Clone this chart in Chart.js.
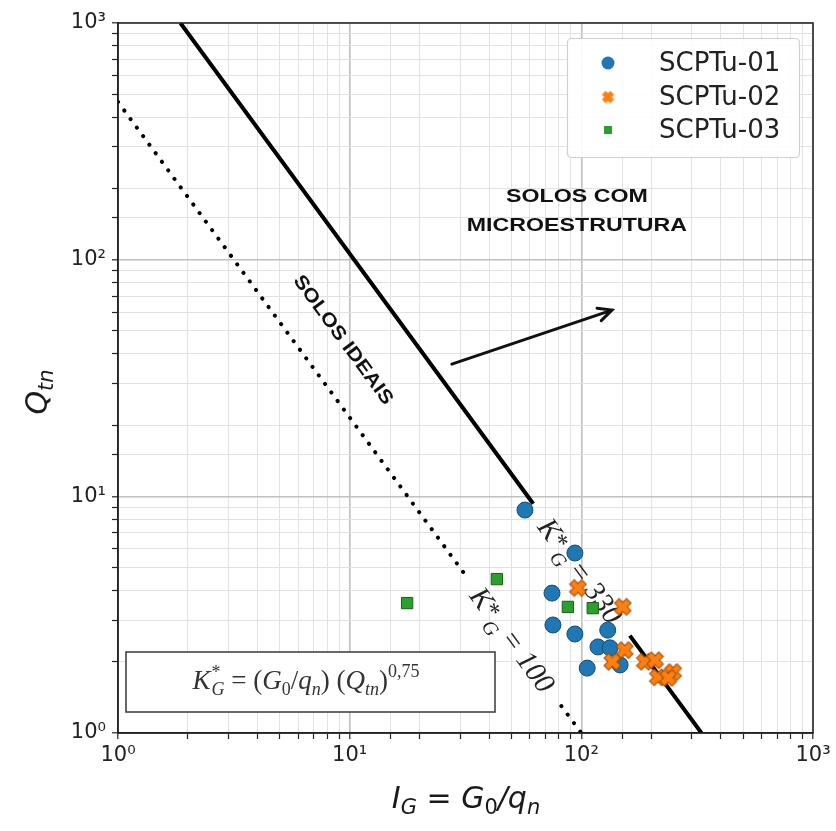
<!DOCTYPE html>
<html>
<head>
<meta charset="utf-8">
<script src="https://cdn.jsdelivr.net/npm/chart.js@4.4.0/dist/chart.umd.min.js"></script>
<style>
  html, body { margin: 0; background: #fff; }
  #chart { display: block; }
</style>
</head>
<body>
<canvas id="chart" width="836" height="831"></canvas>
<script>
// Data (I_G = G0/qn, Qtn)
const scpt01IG  = [57.1, 93.8, 74.7, 75.4, 93.8, 130, 118, 133, 106, 147];
const scpt01Qtn = [8.75, 5.76, 3.90, 2.86, 2.62, 2.72, 2.31, 2.29, 1.88, 1.94];
const scpt02IG  = [96.7, 151, 154, 136, 188, 208, 214, 249, 237];
const scpt02Qtn = [4.10, 3.41, 2.24, 2.00, 2.00, 2.03, 1.72, 1.81, 1.71];
const scpt03IG  = [17.7, 43.2, 87.5, 112];
const scpt03Qtn = [3.54, 4.47, 3.41, 3.37];

// K*G boundary lines, segment end points (null = gap for the label)
const k330IG  = [1.86, 62, 100, 162, 330];
const k330Qtn = [1000, 9.3, null, 2.58, 1];
const k100IG  = [1, 32, 50, 82, 100];
const k100Qtn = [464, 4.57, null, 1.30, 1];

const seriesNames = ['SCPTu-01', 'SCPTu-02', 'SCPTu-03'];
const seriesColors = ['#1f77b4', '#ff7f0e', '#2ca02c'];
const xTickLabels = {1: '10⁰', 10: '10¹', 100: '10²', 1000: '10³'};
const yTickLabels = {1: '10⁰', 10: '10¹', 100: '10²', 1000: '10³'};

const toPoints = (xs, ys) => xs.map((x, i) => ({x: x, y: ys[i]}));
const isDecade = v => Math.abs(Math.log10(v) - Math.round(Math.log10(v))) < 1e-6;

// filled "X" marker like matplotlib
function makeX(size, fill, edge) {
  const c = document.createElement('canvas');
  c.width = c.height = size;
  const g = c.getContext('2d');
  const h = size / 2 - 1, a = size * 0.17;
  const pts = [[-a,-h],[a,-h],[a,-a],[h,-a],[h,a],[a,a],[a,h],[-a,h],[-a,a],[-h,a],[-h,-a],[-a,-a]];
  g.translate(size / 2, size / 2);
  g.rotate(Math.PI / 4);
  g.beginPath();
  pts.forEach((p, i) => i ? g.lineTo(p[0], p[1]) : g.moveTo(p[0], p[1]));
  g.closePath();
  g.fillStyle = fill;
  g.fill();
  g.strokeStyle = edge;
  g.lineWidth = 1;
  g.stroke();
  return c;
}
const xMarker = makeX(19, '#ff7f0e', '#9a4a05');
const xMarkerSmall = makeX(13, '#ff7f0e', '#ff7f0e');

// draw text made of runs (for sub/superscripts)
function drawRuns(ctx, runs, x, y, align) {
  let total = 0;
  runs.forEach(r => { ctx.font = r.font; r.w = r.noAdvance ? 0 : ctx.measureText(r.text).width; total += r.w + (r.dx || 0); });
  let cx = align === 'center' ? x - total / 2 : x;
  ctx.textAlign = 'left';
  runs.forEach(r => {
    ctx.font = r.font;
    ctx.fillText(r.text, cx + (r.ox || 0), y + (r.dy || 0));
    cx += r.w + (r.dx || 0);
  });
}

const annotations = {
  id: 'annotations',
  beforeDatasetsDraw(chart) {
    const {ctx, scales: {x, y}} = chart;
    const ang = Math.atan2(y.getPixelForValue(9.3) - y.getPixelForValue(1000),
                           x.getPixelForValue(62) - x.getPixelForValue(1.86));
    ctx.save();
    ctx.fillStyle = '#111';
    ctx.textBaseline = 'middle';

    // SOLOS COM MICROESTRUTURA
    ctx.font = 'bold 19px "Liberation Sans", Arial, sans-serif';
    [['SOLOS COM', 184], ['MICROESTRUTURA', 139]].forEach(([t, q]) => {
      ctx.save();
      ctx.translate(x.getPixelForValue(95.7), y.getPixelForValue(q));
      ctx.scale(1.22, 1);
      ctx.textAlign = 'center';
      ctx.fillText(t, 0, 0);
      ctx.restore();
    });

    // SOLOS IDEAIS (rotated)
    ctx.save();
    ctx.translate(x.getPixelForValue(9.35), y.getPixelForValue(45.7));
    ctx.rotate(ang);
    ctx.scale(1.15, 1);
    ctx.textAlign = 'center';
    ctx.fillText('SOLOS IDEAIS', 0, 0);
    ctx.restore();

    // arrow
    const ax0 = x.getPixelForValue(27.6), ay0 = y.getPixelForValue(36.2);
    const ax1 = x.getPixelForValue(135.6), ay1 = y.getPixelForValue(61.2);
    const aa = Math.atan2(ay1 - ay0, ax1 - ax0);
    ctx.strokeStyle = '#111';
    ctx.lineWidth = 3;
    ctx.lineCap = 'round';
    ctx.beginPath();
    ctx.moveTo(ax0, ay0);
    ctx.lineTo(ax1, ay1);
    ctx.moveTo(ax1 - 15 * Math.cos(aa - 0.45), ay1 - 15 * Math.sin(aa - 0.45));
    ctx.lineTo(ax1, ay1);
    ctx.lineTo(ax1 - 15 * Math.cos(aa + 0.45), ay1 - 15 * Math.sin(aa + 0.45));
    ctx.stroke();

    // K*G labels along the lines
    [[98.6, 4.83, '330'], [50.2, 2.47, '100']].forEach(([ig, q, k]) => {
      ctx.save();
      ctx.translate(x.getPixelForValue(ig), y.getPixelForValue(q));
      ctx.rotate(ang);
      ctx.textBaseline = 'alphabetic';
      ctx.fillStyle = '#222';
      const f = 'italic 29px "Liberation Serif", "Times New Roman", serif';
      drawRuns(ctx, [
        {text: 'K', font: f},
        {text: '*', font: '25px "Liberation Serif", serif', dy: -2},
        {text: 'G', font: 'italic 20px "Liberation Serif", serif', dy: 8, dx: 6},
        {text: '= ' + k, font: f}
      ], 0, 9, 'center');
      ctx.restore();
    });
    ctx.restore();
  },
  afterDatasetsDraw(chart) {
    const {ctx, chartArea: ca} = chart;
    ctx.save();
    // frame
    ctx.strokeStyle = '#222';
    ctx.lineWidth = 1.5;
    ctx.strokeRect(ca.left, ca.top, ca.right - ca.left, ca.bottom - ca.top);

    // formula box
    ctx.fillStyle = '#fff';
    ctx.fillRect(126, 652, 369, 60);
    ctx.strokeStyle = '#444';
    ctx.lineWidth = 1.6;
    ctx.strokeRect(126, 652, 369, 60);
    ctx.fillStyle = '#333';
    ctx.textBaseline = 'alphabetic';
    const fi = 'italic 27px "Liberation Serif", serif';
    const fr = '27px "Liberation Serif", serif';
    const fs = 'italic 18px "Liberation Serif", serif';
    const fsr = '18px "Liberation Serif", serif';
    drawRuns(ctx, [
      {text: 'K', font: fi, dx: 1},
      {text: '*', font: fsr, dy: -11, noAdvance: true},
      {text: 'G', font: fs, dy: 6},
      {text: ' = (', font: fr},
      {text: 'G', font: fi},
      {text: '0', font: fsr, dy: 6},
      {text: '/', font: fr},
      {text: 'q', font: fi},
      {text: 'n', font: fs, dy: 6},
      {text: ') (', font: fr},
      {text: 'Q', font: fi},
      {text: 'tn', font: fs, dy: 6},
      {text: ')', font: fr},
      {text: '0,75', font: fsr, dy: -12}
    ], 306, 689, 'center');

    // legend
    ctx.fillStyle = 'rgba(255,255,255,0.9)';
    ctx.strokeStyle = '#d0d0d0';
    ctx.lineWidth = 1.2;
    ctx.beginPath();
    ctx.roundRect(567.5, 38.5, 232, 119, 4);
    ctx.fill();
    ctx.stroke();
    const rows = [63, 97, 130];
    ctx.font = '26px "DejaVu Sans", sans-serif';
    ctx.textBaseline = 'middle';
    rows.forEach((ry, i) => {
      if (i === 0) {
        ctx.fillStyle = seriesColors[0];
        ctx.beginPath(); ctx.arc(608, ry, 6.5, 0, Math.PI * 2); ctx.fill();
      } else if (i === 1) {
        ctx.drawImage(xMarkerSmall, 608 - 6.5, ry - 6.5);
      } else {
        ctx.fillStyle = seriesColors[2];
        ctx.fillRect(604, ry - 4, 8, 8);
      }
      ctx.fillStyle = '#222';
      ctx.textAlign = 'left';
      ctx.fillText(seriesNames[i], 659, ry + 1);
    });
    ctx.restore();
  },
  afterDraw(chart) {
    const {ctx} = chart;
    ctx.save();
    ctx.fillStyle = '#1a1a1a';
    ctx.textBaseline = 'alphabetic';
    // y title
    ctx.save();
    ctx.translate(47, 392);
    ctx.rotate(-Math.PI / 2);
    drawRuns(ctx, [
      {text: 'Q', font: 'italic 30px "DejaVu Sans", sans-serif'},
      {text: 'tn', font: 'italic 21px "DejaVu Sans", sans-serif', dy: 6}
    ], 0, 0, 'center');
    ctx.restore();
    // x title
    drawRuns(ctx, [
      {text: 'I', font: 'italic 30px "DejaVu Sans", sans-serif'},
      {text: 'G', font: 'italic 21px "DejaVu Sans", sans-serif', dy: 6},
      {text: ' = ', font: '30px "DejaVu Sans", sans-serif'},
      {text: 'G', font: 'italic 30px "DejaVu Sans", sans-serif'},
      {text: '0', font: '21px "DejaVu Sans", sans-serif', dy: 6},
      {text: '/', font: 'italic 30px "DejaVu Sans", sans-serif'},
      {text: 'q', font: 'italic 30px "DejaVu Sans", sans-serif'},
      {text: 'n', font: 'italic 21px "DejaVu Sans", sans-serif', dy: 6}
    ], 466, 808, 'center');
    ctx.restore();
  }
};

const gridOpts = {
  color: c => (c.tick && isDecade(c.tick.value)) ? '#c0c0c0' : '#e2e2e2',
  lineWidth: c => (c.tick && isDecade(c.tick.value)) ? 1.6 : 1,
  tickColor: '#222',
  tickLength: 6,
  tickWidth: 1.2
};

new Chart(document.getElementById('chart'), {
  type: 'scatter',
  data: {
    datasets: [
      {
        type: 'line', label: 'K330', data: toPoints(k330IG, k330Qtn),
        borderColor: '#000', borderWidth: 4, pointRadius: 0, order: 5, spanGaps: false
      },
      {
        type: 'line', label: 'K100', data: toPoints(k100IG, k100Qtn),
        borderColor: '#000', borderWidth: 4, borderDash: [0.1, 10.5], borderCapStyle: 'round',
        pointRadius: 0, order: 5, spanGaps: false
      },
      {
        label: seriesNames[0], data: toPoints(scpt01IG, scpt01Qtn), order: 1,
        pointStyle: 'circle', pointRadius: 8, backgroundColor: seriesColors[0],
        borderColor: '#174a72', borderWidth: 1
      },
      {
        label: seriesNames[1], data: toPoints(scpt02IG, scpt02Qtn), order: 0,
        pointStyle: xMarker, pointRadius: 9, backgroundColor: seriesColors[1]
      },
      {
        label: seriesNames[2], data: toPoints(scpt03IG, scpt03Qtn), order: 0,
        pointStyle: 'rect', pointRadius: 8, backgroundColor: seriesColors[2],
        borderColor: '#1b5e1b', borderWidth: 1
      }
    ]
  },
  options: {
    responsive: false,
    animation: false,
    layout: { padding: { top: 23, right: 23, left: 0, bottom: 0 } },
    plugins: { legend: { display: false }, tooltip: { enabled: false } },
    scales: {
      x: {
        type: 'logarithmic', min: 1, max: 1000,
        afterFit: s => { s.height = 98; },
        border: { color: '#222', width: 1.5 },
        grid: gridOpts,
        ticks: {
          autoSkip: false, maxRotation: 0, padding: 4, color: '#222',
          font: { family: '"DejaVu Sans", sans-serif', size: 21 },
          callback: v => xTickLabels[v] || ''
        }
      },
      y: {
        type: 'logarithmic', min: 1, max: 1000,
        afterFit: s => { s.width = 118; },
        border: { color: '#222', width: 1.5 },
        grid: gridOpts,
        ticks: {
          autoSkip: false, padding: 6, color: '#222',
          font: { family: '"DejaVu Sans", sans-serif', size: 21 },
          callback: v => yTickLabels[v] || ''
        }
      }
    }
  },
  plugins: [annotations]
});
</script>
</body>
</html>
